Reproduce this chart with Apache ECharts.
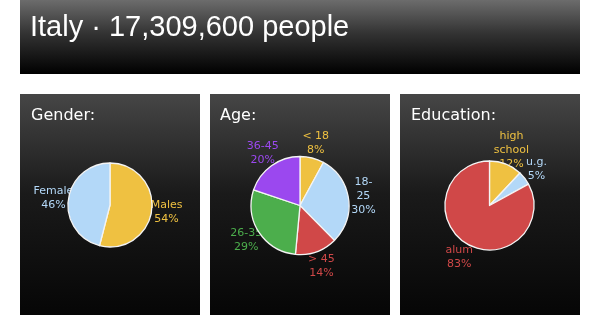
<!DOCTYPE html>
<html>
<head>
<meta charset="utf-8">
<style>
  html, body { margin: 0; padding: 0; background: #ffffff; }
  #chart { width: 600px; height: 315px; }
</style>
<script src="https://cdn.jsdelivr.net/npm/echarts@6/dist/echarts.min.js"></script>
</head>
<body>
<div id="chart"></div>
<script>
// ---- Data ----
const mainTitle = 'Italy · 17,309,600 people';

const genderTitle = 'Gender:';
const genderNames = ['Males', 'Female'];
const genderValues = [54, 46];
const genderColors = ['#efc141', '#b3d8f8'];

const ageTitle = 'Age:';
const ageNames = ['< 18', '18-25', '> 45', '26-35', '36-45'];
const ageValues = [8, 30, 14, 29, 20];
const ageColors = ['#efc141', '#b3d8f8', '#d04848', '#4cae4c', '#9b48ef'];

const eduTitle = 'Education:';
const eduNames = ['high school', 'u.g.', 'alum'];
const eduValues = [12, 5, 83];
const eduColors = ['#efc141', '#b3d8f8', '#d04848'];

// label line breaks as drawn in the reference
const wrapNames = { '18-25': '18-\n25', 'high school': 'high\nschool' };

// ---- Build chart ----
const chart = echarts.init(document.getElementById('chart'), null, { renderer: 'canvas' });

function vGrad(stops) {
  return new echarts.graphic.LinearGradient(0, 0, 0, 1, stops);
}

function pieSeries(names, values, colors, center, radius) {
  const data = names.map((n, i) => ({
    name: n,
    value: values[i],
    itemStyle: { color: colors[i] }
  }));
  const pie = {
    type: 'pie',
    z: 3,
    center: center,
    radius: radius,
    startAngle: 90,
    clockwise: true,
    silent: true,
    animation: false,
    label: { show: false },
    labelLine: { show: false },
    itemStyle: { borderColor: '#f4f4f4', borderWidth: 1.3 },
    emphasis: { disabled: true },
    data: data
  };
  const labelRing = {
    type: 'pie',
    z: 1,
    center: center,
    radius: [radius + 2, radius + 22],
    startAngle: 90,
    clockwise: true,
    silent: true,
    animation: false,
    avoidLabelOverlap: false,
    itemStyle: { color: 'rgba(0,0,0,0)', borderWidth: 0 },
    label: {
      show: true,
      position: 'inside',
      fontFamily: 'DejaVu Sans',
      fontSize: 11,
      lineHeight: 14,
      align: 'center',
      formatter: p => (wrapNames[p.name] || p.name) + '\n' + p.value + '%'
    },
    labelLine: { show: false },
    labelLayout: { hideOverlap: false },
    emphasis: { disabled: true },
    data: names.map((n, i) => ({
      name: n,
      value: values[i],
      label: { color: colors[i] }
    }))
  };
  return [labelRing, pie];
}

const panelTitleStyle = { color: '#ffffff', fontFamily: 'DejaVu Sans', fontSize: 16, fontWeight: 'normal' };
const panelGrad = () => vGrad([{ offset: 0, color: '#464646' }, { offset: 0.45, color: '#1a1a1a' }, { offset: 1, color: '#060606' }]);

const option = {
  animation: false,
  backgroundColor: '#ffffff',
  graphic: {
    elements: [
      { type: 'rect', z: -10, shape: { x: 20, y: 0, width: 560, height: 74 },
        style: { fill: vGrad([{ offset: 0, color: '#6c6c6c' }, { offset: 0.45, color: '#333333' }, { offset: 1, color: '#000000' }]) } },
      { type: 'rect', z: -10, shape: { x: 20, y: 94, width: 180, height: 221 }, style: { fill: panelGrad() } },
      { type: 'rect', z: -10, shape: { x: 210, y: 94, width: 180, height: 221 }, style: { fill: panelGrad() } },
      { type: 'rect', z: -10, shape: { x: 400, y: 94, width: 180, height: 221 }, style: { fill: panelGrad() } }
    ]
  },
  title: [
    { text: mainTitle, left: 30, top: 13, padding: 0,
      textStyle: { color: '#ffffff', fontFamily: 'Liberation Sans', fontSize: 29, fontWeight: 'normal' } },
    { text: genderTitle, left: 31, top: 108, padding: 0, textStyle: panelTitleStyle },
    { text: ageTitle, left: 220, top: 108, padding: 0, textStyle: panelTitleStyle },
    { text: eduTitle, left: 411, top: 108, padding: 0, textStyle: panelTitleStyle }
  ],
  series: [
    ...pieSeries(genderNames, genderValues, genderColors, [110, 205], 42),
    ...pieSeries(ageNames, ageValues, ageColors, [300, 205.5], 49),
    ...pieSeries(eduNames, eduValues, eduColors, [489.5, 205.5], 44.5)
  ]
};

chart.setOption(option);
</script>
</body>
</html>
